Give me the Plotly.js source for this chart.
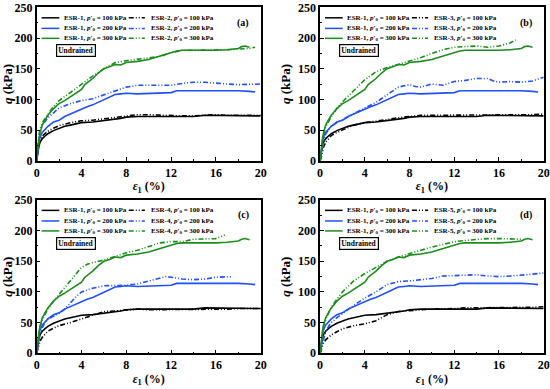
<!DOCTYPE html>
<html>
<head>
<meta charset="utf-8">
<script src="https://cdn.plot.ly/plotly-3.0.1.min.js"></script>
<style>html,body{margin:0;padding:0;background:#fff}#chart{width:550px;height:389px}</style>
</head>
<body>
<div id="chart"></div>
<script>
// ---------- data (axial strain %, deviator stress q kPa) ----------
const esr1_100_x = [0,0.1,0.2,0.3,0.5,0.8,1,1.5,2,2.5,3,3.5,4,5,6,7,7.5,8,8.5,9,10,11,12,13,14,15,16,17,18,19,20];
const esr1_100_q = [0,15,24,30,36,41,44,49,53,56,58,60,62,63,65,67,69,71,72,72,72,72,72,72,72,74,74,73,73,73,73];
const esr1_200_x = [0,0.1,0.2,0.3,0.5,0.8,1,1.5,2,2.5,3,3.5,4,4.5,5,5.5,6,6.5,7,7.5,8,9,10,11,12,12.5,13,14,15,16,17,18,19,19.5];
const esr1_200_q = [0,18,30,38,46,52,56,63,66,72,76,80,85,88,91,95,99,104,108,109,110,109,110,110,111,114,114,115,115,115,115,114,113,112];
const esr1_300_x = [0,0.1,0.2,0.3,0.5,0.8,1,1.5,2,2.5,3,3.5,4,4.3,4.6,5,5.5,6,6.5,7,7.5,8,9,10,10.5,11,12,12.5,13,14,15,16,17,18,18.3,18.6,19];
const esr1_300_q = [0,20,35,45,58,68,74,85,93,98,104,110,116,124,128,134,143,150,153,157,156,160,162,165,168,171,176,179,180,180,179,180,181,183,186,187,185];

const esr2_100_x = [0,0.1,0.2,0.3,0.5,0.8,1,1.5,2,3,4,5,6,7,8,8.5,9,10,11,12,13,14,15,16,17,18,19,20];
const esr2_100_q = [0,18,28,34,40,45,48,53,57,62,65,66,68,70,72,74,75,75,74,73,73,73,74,75,74,74,74,74];
const esr2_200_x = [0,0.1,0.2,0.3,0.5,0.8,1,1.5,2,3,4,5,6,7,8,9,10,11,12,13,14,15,16,17,18,19,20];
const esr2_200_q = [0,25,38,48,58,65,70,78,86,93,98,101,107,114,120,123,123,123,123,126,128,128,126,125,124,124,125];
const esr2_300_x = [0,0.1,0.2,0.3,0.5,0.8,1,1.5,2,3,4,5,6,7,8,9,10,11,12,13,14,15,16,17,18,19,19.5];
const esr2_300_q = [0,30,42,52,62,70,76,88,98,111,125,138,150,160,163,165,167,170,176,180,180,180,181,181,182,183,185];

const esr3_100_x = [0,0.1,0.2,0.3,0.5,0.8,1,1.5,2,3,4,5,6,7,8,9,10,11,12,13,14,15,16,17,18,19,20];
const esr3_100_q = [0,8,15,22,30,37,41,46,50,58,62,64,67,70,72,74,74,74,74,74,74,75,75,75,75,75,76];
const esr3_200_x = [0,0.1,0.2,0.3,0.5,0.8,1,1.5,2,3,4,5,6,7,8,8.5,9,10,11,12,13,14,15,15.5,16,17,18,19,20];
const esr3_200_q = [0,5,15,28,44,52,56,62,67,77,86,95,108,120,124,121,120,125,123,129,131,134,134,130,128,129,128,130,136];
const esr3_300_x = [0,0.1,0.2,0.3,0.5,0.8,1,1.5,2,3,4,5,6,7,8,9,10,11,12,13,14,15,16,17,17.5];
const esr3_300_q = [0,15,30,42,55,66,72,85,96,114,132,145,152,157,162,168,175,181,185,186,187,185,187,192,197];

const esr4_100_x = [0,0.1,0.2,0.3,0.5,0.8,1,1.5,2,3,4,5,6,7,8,9,10,11,12,13,14,15,16,17,18,19,20];
const esr4_100_q = [0,8,15,20,26,32,36,41,45,50,56,62,68,69,71,72,71,71,72,72,71,72,72,72,73,73,73];
const esr4_200_x = [0,0.1,0.2,0.3,0.5,0.8,1,1.5,2,2.5,3,3.5,4,5,6,7,8,9,10,11,11.5,12,13,14,15,16,17,17.5];
const esr4_200_q = [0,10,22,32,42,52,56,60,65,72,82,92,100,106,110,110,111,113,118,123,125,124,121,120,121,124,125,125];
const esr4_300_x = [0,0.1,0.2,0.3,0.5,0.8,1,1.5,2,3,4,4.5,5,6,7,8,9,10,11,12,13,14,15,16,16.8];
const esr4_300_q = [0,15,30,42,55,66,72,85,96,117,140,145,148,152,158,164,168,174,180,182,182,186,187,187,193];

const esr5_100_x = [0,0.1,0.2,0.3,0.5,0.8,1,1.5,2,3,4,5,6,7,8,9,10,11,12,13,14,15,16,17,18,19,20];
const esr5_100_q = [0,6,12,17,22,27,30,35,40,45,48,53,63,68,70,71,72,72,73,74,74,74,74,74,74,75,76];
const esr5_200_x = [0,0.1,0.2,0.3,0.5,0.8,1,1.5,2,3,4,5,6,7,8,9,10,11,12,13,14,15,16,17,18,19,20];
const esr5_200_q = [0,5,12,22,35,45,50,58,65,78,90,100,112,117,118,120,122,126,127,128,128,126,125,126,127,129,131];
const esr5_300_x = [0,0.1,0.2,0.3,0.5,0.8,1,1.5,2,3,4,5,6,7,8,9,10,11,12,13,14,15,16,17,18];
const esr5_300_q = [0,18,32,44,55,68,75,88,100,118,130,140,150,157,163,168,173,178,182,184,186,187,187,187,186];

const pressures = ['100','200','300'];
const panelLabels = ['(a)','(b)','(c)','(d)'];
const compareNames = ['ESR-2','ESR-3','ESR-4','ESR-5'];
const xTicks = [0,4,8,12,16,20];
const xTickText = ['0','4','8','12','16','20'];
const yTicks = [0,50,100,150,200,250];
const yTickText = ['0','50','100','150','200','250'];

const esr1 = [[esr1_100_x,esr1_100_q],[esr1_200_x,esr1_200_q],[esr1_300_x,esr1_300_q]];
const others = [
  [[esr2_100_x,esr2_100_q],[esr2_200_x,esr2_200_q],[esr2_300_x,esr2_300_q]],
  [[esr3_100_x,esr3_100_q],[esr3_200_x,esr3_200_q],[esr3_300_x,esr3_300_q]],
  [[esr4_100_x,esr4_100_q],[esr4_200_x,esr4_200_q],[esr4_300_x,esr4_300_q]],
  [[esr5_100_x,esr5_100_q],[esr5_200_x,esr5_200_q],[esr5_300_x,esr5_300_q]]
];

// ---------- style ----------
const colors = ['#000000','#1f4fff','#1b8c1b'];
const dashDD = '5px,2px,1px,2px,1px,2px';
const FONT = 'Liberation Serif, Times New Roman, serif';
const xDomains = [[0.0667,0.474],[0.582,0.9885],[0.0667,0.474],[0.582,0.9885]];
const yDomains = [[0.587,0.981],[0.587,0.981],[0.0918,0.486],[0.0918,0.486]];

const traces = [];
const annotations = [];
const shapes = [];
const layout = {
  width:550, height:389, margin:{l:0,r:0,t:0,b:0},
  paper_bgcolor:'#fff', plot_bgcolor:'#fff', showlegend:false,
  font:{family:FONT, color:'#000'}
};

for (let p=0;p<4;p++){
  const sfx = p===0 ? '' : String(p+1);
  const xa = 'x'+sfx, ya = 'y'+sfx;
  const axCommon = {
    showgrid:false, zeroline:false, showline:true, linewidth:1.5, linecolor:'#000', mirror:true,
    ticks:'inside', ticklen:4, tickwidth:1.2, tickcolor:'#000',
    tickfont:{family:FONT, size:12, color:'#000'}
  };
  layout['xaxis'+sfx] = Object.assign({}, axCommon, {
    domain:xDomains[p], anchor:ya, range:[0,20], tickmode:'array', tickvals:xTicks,
    ticktext:xTickText.map(t=>'<b>'+t+'</b>'),
    minor:{ticks:'inside', ticklen:2, dtick:2, tick0:0, tickcolor:'#000', tickwidth:1},
    title:{text:'<b><i>ε</i><sub>1</sub> (%)</b>', font:{family:FONT, size:12}, standoff:3}
  });
  layout['yaxis'+sfx] = Object.assign({}, axCommon, {
    domain:yDomains[p], anchor:xa, range:[0,250], tickmode:'array', tickvals:yTicks,
    ticktext:yTickText.map(t=>'<b>'+t+'</b>'),
    minor:{ticks:'inside', ticklen:2, dtick:25, tick0:0, tickcolor:'#000', tickwidth:1},
    title:{text:'<b><i>q</i> (kPa)</b>', font:{family:FONT, size:13}, standoff:4}
  });

  for (let s=0;s<3;s++){
    traces.push({x:esr1[s][0], y:esr1[s][1], xaxis:xa, yaxis:ya, mode:'lines',
      line:{color:colors[s], width:1.6}, name:'ESR-1, p\'0 = '+pressures[s]+' kPa'});
    traces.push({x:others[p][s][0], y:others[p][s][1], xaxis:xa, yaxis:ya, mode:'lines',
      line:{color:colors[s], width:1.6, dash:dashDD}, name:compareNames[p]+', p\'0 = '+pressures[s]+' kPa'});
  }

  // legend drawn inside each panel
  const rowY = [0.932,0.863,0.798];
  for (let s=0;s<3;s++){
    const cols = [
      {name:'ESR-1', dash:'solid', lx0:0.022, lx1:0.101, tx:0.112},
      {name:compareNames[p], dash:dashDD, lx0:0.411, lx1:0.483, tx:0.5}
    ];
    cols.forEach(c=>{
      shapes.push({type:'line', xref:xa+' domain', yref:ya+' domain', x0:c.lx0, x1:c.lx1, y0:rowY[s], y1:rowY[s],
        line:{color:colors[s], width:1.5, dash:c.dash}});
      annotations.push({xref:xa+' domain', yref:ya+' domain', x:c.tx, y:rowY[s], xanchor:'left', yanchor:'middle',
        showarrow:false, text:'<b>'+c.name+', <i>p</i>′<sub>0</sub> = '+pressures[s]+' kPa</b>',
        font:{family:FONT, size:7, color:'#000'}});
    });
  }
  annotations.push({xref:xa+' domain', yref:ya+' domain', x:0.175, y:0.716, xanchor:'center', yanchor:'middle',
    showarrow:false, text:'<b>Undrained</b>', bordercolor:'#000', borderwidth:1.2, borderpad:1, bgcolor:'#fff',
    font:{family:FONT, size:7.5, color:'#000'}});
  annotations.push({xref:xa+' domain', yref:ya+' domain', x:0.922, y:0.9, xanchor:'center', yanchor:'middle',
    showarrow:false, text:'<b>'+panelLabels[p]+'</b>', font:{family:FONT, size:10, color:'#000'}});
}
layout.annotations = annotations;
layout.shapes = shapes;

Plotly.newPlot('chart', traces, layout, {displayModeBar:false});
</script>
</body>
</html>
